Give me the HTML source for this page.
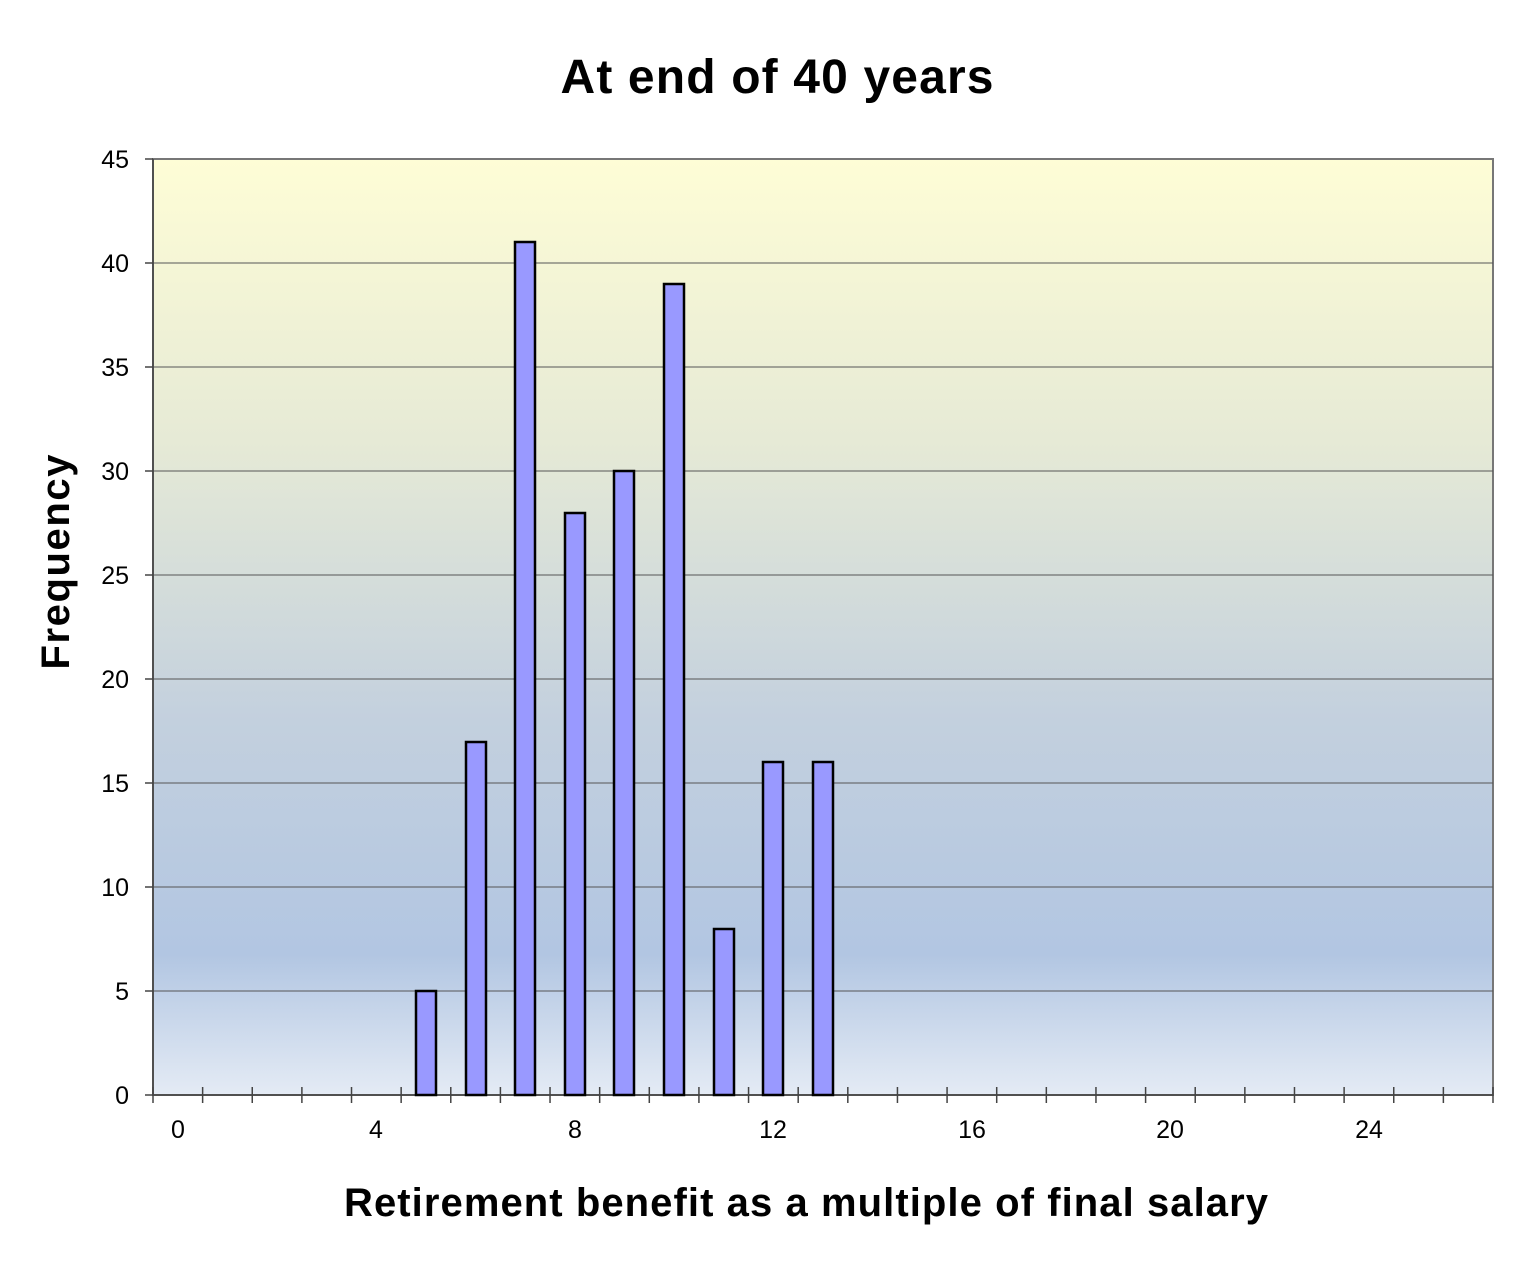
<!DOCTYPE html>
<html><head><meta charset="utf-8"><style>html,body{margin:0;padding:0;background:#fff}</style></head>
<body>
<svg width="1526" height="1281" viewBox="0 0 1526 1281" xmlns="http://www.w3.org/2000/svg" font-family="Liberation Sans, sans-serif">
<defs>
<linearGradient id="bg" x1="0" y1="0" x2="0" y2="1">
<stop offset="0" stop-color="#fefdd6"/>
<stop offset="0.3" stop-color="#e6ead6"/>
<stop offset="0.6" stop-color="#c3d0de"/>
<stop offset="0.85" stop-color="#b2c6e2"/>
<stop offset="1" stop-color="#e4ebf5"/>
</linearGradient>
</defs>
<rect width="1526" height="1281" fill="#fff"/>
<text x="777" y="93" text-anchor="middle" font-size="48" font-weight="bold" textLength="433">At end of 40 years</text>
<rect x="153" y="159" width="1340" height="936" fill="url(#bg)" stroke="#777" stroke-width="2"/>
<g stroke="#555" stroke-width="1">
<line x1="153" y1="263" x2="1493" y2="263"/>
<line x1="153" y1="367" x2="1493" y2="367"/>
<line x1="153" y1="471" x2="1493" y2="471"/>
<line x1="153" y1="575" x2="1493" y2="575"/>
<line x1="153" y1="679" x2="1493" y2="679"/>
<line x1="153" y1="783" x2="1493" y2="783"/>
<line x1="153" y1="887" x2="1493" y2="887"/>
<line x1="153" y1="991" x2="1493" y2="991"/>
</g>
<g stroke="#444" stroke-width="1.5">
<line x1="153" y1="159" x2="153" y2="1095"/>
<line x1="145" y1="1095" x2="1493" y2="1095"/>
<line x1="145" y1="159" x2="153" y2="159"/><line x1="145" y1="263" x2="153" y2="263"/><line x1="145" y1="367" x2="153" y2="367"/><line x1="145" y1="471" x2="153" y2="471"/><line x1="145" y1="575" x2="153" y2="575"/><line x1="145" y1="679" x2="153" y2="679"/><line x1="145" y1="783" x2="153" y2="783"/><line x1="145" y1="887" x2="153" y2="887"/><line x1="145" y1="991" x2="153" y2="991"/>
</g>
<g stroke="#444" stroke-width="1.5" id="xt"></g>
<g font-size="25" text-anchor="end">
<text x="129" y="168">45</text><text x="129" y="272">40</text><text x="129" y="376">35</text><text x="129" y="480">30</text><text x="129" y="584">25</text><text x="129" y="688">20</text><text x="129" y="792">15</text><text x="129" y="896">10</text><text x="129" y="1000">5</text><text x="129" y="1104">0</text>
</g>
<g font-size="25" text-anchor="middle">
<text x="178" y="1138">0</text><text x="376" y="1138">4</text><text x="575" y="1138">8</text><text x="773" y="1138">12</text><text x="972" y="1138">16</text><text x="1170" y="1138">20</text><text x="1369" y="1138">24</text>
</g>
<g fill="#9999ff" stroke="#000" stroke-width="2.5">
<rect x="416" y="991" width="20" height="104"/>
<rect x="466" y="742" width="20" height="353"/>
<rect x="515" y="242" width="20" height="853"/>
<rect x="565" y="513" width="20" height="582"/>
<rect x="614" y="471" width="20" height="624"/>
<rect x="664" y="284" width="20" height="811"/>
<rect x="714" y="929" width="20" height="166"/>
<rect x="763" y="762" width="20" height="333"/>
<rect x="813" y="762" width="20" height="333"/>
</g>
<text x="806" y="1216" text-anchor="middle" font-size="40" font-weight="bold" textLength="924">Retirement benefit as a multiple of final salary</text>
<text transform="translate(69,562) rotate(-90)" text-anchor="middle" font-size="40" font-weight="bold" textLength="215">Frequency</text>
<script>
var g=document.getElementById('xt');
for(var i=0;i<=27;i++){var x=153+i*1340/27;var l=document.createElementNS('http://www.w3.org/2000/svg','line');l.setAttribute('x1',x);l.setAttribute('x2',x);l.setAttribute('y1',1087);l.setAttribute('y2',1103);g.appendChild(l);}
</script>
</svg>
</body></html>
